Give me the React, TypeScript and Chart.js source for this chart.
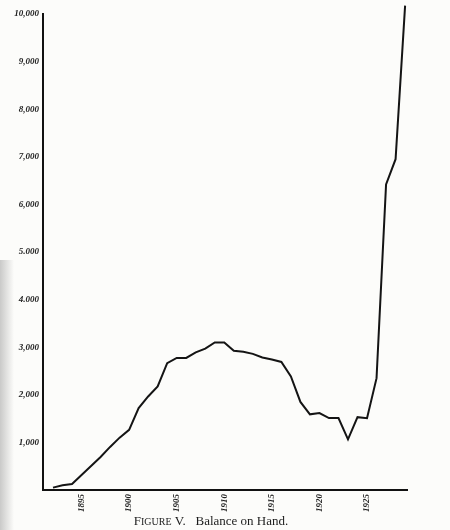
import React, { useEffect, useRef } from "react";
import { Chart, registerables } from "chart.js";

Chart.register(...registerables);

const years = [
  1892, 1893, 1894, 1895, 1896, 1897, 1898, 1899, 1900, 1901,
  1902, 1903, 1904, 1905, 1906, 1907, 1908, 1909, 1910, 1911,
  1912, 1913, 1914, 1915, 1916, 1917, 1918, 1919, 1920, 1921,
  1922, 1923, 1924, 1925, 1926, 1927, 1928, 1929,
];

const balance = [
  50, 100, 125, 315, 505, 695, 905, 1100, 1265, 1720,
  1965, 2175, 2665, 2775, 2775, 2890, 2970, 3100, 3100, 2925,
  2905, 2860, 2785, 2740, 2690, 2385, 1850, 1590, 1615, 1510,
  1510, 1065, 1530, 1510, 2350, 6420, 6950, 10175,
];

const xTickYears = [1895, 1900, 1905, 1910, 1915, 1920, 1925];
const yTickValues = [1000, 2000, 3000, 4000, 5000, 6000, 7000, 8000, 9000, 10000];
const yTickLabels = ["1,000", "2,000", "3,000", "4.000", "5.000", "6,000", "7,000", "8,000", "9,000", "10,000"];

const captionParts: [string, boolean][] = [
  ["F", false],
  ["IGURE", true],
  [" V.   Balance on Hand.", false],
];

export default function App() {
  const ref = useRef<HTMLCanvasElement>(null);

  useEffect(() => {
    document.body.style.margin = "0";
    const canvas = ref.current;
    if (!canvas) return;

    const captionPlugin = {
      id: "caption",
      afterDraw(chart: any) {
        const ctx = chart.ctx as CanvasRenderingContext2D;
        ctx.save();
        ctx.fillStyle = "#1c1c1c";
        ctx.textBaseline = "alphabetic";
        ctx.textAlign = "left";
        const big = "13px 'Liberation Serif'";
        const small = "10px 'Liberation Serif'";
        let total = 0;
        for (const [t, s] of captionParts) {
          ctx.font = s ? small : big;
          total += ctx.measureText(t).width;
        }
        let x = 211 - total / 2;
        const y = 525;
        for (const [t, s] of captionParts) {
          ctx.font = s ? small : big;
          ctx.fillText(t, x, y);
          x += ctx.measureText(t).width;
        }
        ctx.restore();
      },
    };

    const chart = new Chart(canvas, {
      type: "line",
      data: {
        datasets: [
          {
            data: years.map((yr, i) => ({ x: yr, y: balance[i] })),
            borderColor: "#141414",
            borderWidth: 2,
            pointRadius: 0,
            tension: 0,
            fill: false,
            clip: false as any,
          },
        ],
      },
      options: {
        responsive: false,
        animation: false,
        layout: { padding: { top: 14, right: 43, left: 0, bottom: 0 } },
        plugins: {
          legend: { display: false },
          tooltip: { enabled: false },
          title: { display: false },
        },
        scales: {
          x: {
            type: "linear",
            min: 1890.95,
            max: 1929.2,
            grid: { display: false, drawTicks: false },
            border: { display: true, color: "#111", width: 2 },
            afterBuildTicks: (s: any) => {
              s.ticks = xTickYears.map((v) => ({ value: v }));
            },
            afterFit: (s: any) => {
              s.height = 40;
            },
            ticks: {
              autoSkip: false,
              minRotation: 90,
              maxRotation: 90,
              padding: 4,
              color: "#222",
              font: { family: "'Liberation Serif'", size: 9, style: "italic", weight: "bold" },
              callback: (v: any) => String(v),
            },
          },
          y: {
            min: 0,
            max: 10000,
            grid: { display: false, drawTicks: false },
            border: { display: true, color: "#111", width: 2 },
            afterBuildTicks: (s: any) => {
              s.ticks = yTickValues.map((v) => ({ value: v }));
            },
            afterFit: (s: any) => {
              s.width = 43;
            },
            ticks: {
              autoSkip: false,
              padding: 4,
              color: "#222",
              font: { family: "'Liberation Serif'", size: 9, style: "italic", weight: "bold" },
              callback: (v: any) => {
                const i = yTickValues.indexOf(Number(v));
                return i >= 0 ? yTickLabels[i] : "";
              },
            },
          },
        },
      },
      plugins: [captionPlugin],
    });

    return () => chart.destroy();
  }, []);

  return (
    <div style={{ position: "absolute", left: 0, top: 0, width: 450, height: 530, background: "#fcfcfa" }}>
      <div
        style={{
          position: "absolute",
          left: 0,
          top: 260,
          width: 14,
          height: 270,
          background: "linear-gradient(to right, rgba(140,140,140,0.45), rgba(255,255,255,0))",
        }}
      />
      <canvas ref={ref} width={450} height={530} style={{ display: "block", position: "relative" }} />
    </div>
  );
}
